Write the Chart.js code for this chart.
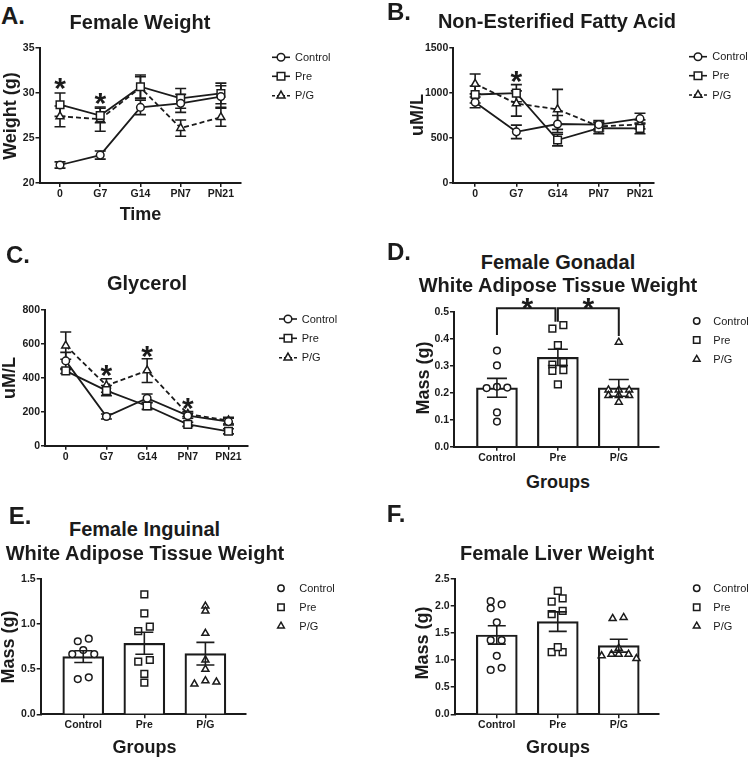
<!DOCTYPE html>
<html>
<head>
<meta charset="utf-8">
<script src="https://cdn.jsdelivr.net/npm/chart.js@4.4.1/dist/chart.umd.min.js"></script>
<style>
body { margin: 0; background: #fff; width: 748px; height: 757px; position: relative; overflow: hidden;
       font-family: "Liberation Sans", Arial, sans-serif; color: #1b1b1b; }
canvas { position: absolute; }
.t { position: absolute; white-space: nowrap; line-height: 1; font-weight: bold; transform: translate(-50%, -50%); z-index: 2; }
.v { transform: translate(-50%, -50%) rotate(-90deg); }
</style>
</head>
<body>
<canvas id="cA"></canvas>
<canvas id="cB"></canvas>
<canvas id="cC"></canvas>
<canvas id="cD"></canvas>
<canvas id="cE"></canvas>
<canvas id="cF"></canvas>

<div class="t" style="left:13px;top:15.5px;font-size:24px">A.</div>
<div class="t" style="left:140px;top:22px;font-size:20px">Female Weight</div>
<div class="t v" style="left:9.5px;top:116px;font-size:18px">Weight (g)</div>
<div class="t" style="left:140.5px;top:214px;font-size:18px">Time</div>

<div class="t" style="left:399px;top:12px;font-size:24px">B.</div>
<div class="t" style="left:557px;top:21px;font-size:20px">Non-Esterified Fatty Acid</div>
<div class="t v" style="left:417px;top:115px;font-size:18px">uM/L</div>

<div class="t" style="left:18px;top:255px;font-size:24px">C.</div>
<div class="t" style="left:147px;top:283px;font-size:20px">Glycerol</div>
<div class="t v" style="left:9px;top:378px;font-size:18px">uM/L</div>

<div class="t" style="left:399px;top:252px;font-size:24px">D.</div>
<div class="t" style="left:558px;top:262px;font-size:20px">Female Gonadal</div>
<div class="t" style="left:558px;top:285px;font-size:20px">White Adipose Tissue Weight</div>
<div class="t v" style="left:423px;top:378px;font-size:18px">Mass (g)</div>
<div class="t" style="left:558px;top:481.5px;font-size:18px">Groups</div>

<div class="t" style="left:20px;top:515.5px;font-size:24px">E.</div>
<div class="t" style="left:144.5px;top:529px;font-size:20px">Female Inguinal</div>
<div class="t" style="left:145px;top:552.5px;font-size:20px">White Adipose Tissue Weight</div>
<div class="t v" style="left:8px;top:646.5px;font-size:18px">Mass (g)</div>
<div class="t" style="left:144.5px;top:746.5px;font-size:18px">Groups</div>

<div class="t" style="left:396px;top:513.5px;font-size:24px">F.</div>
<div class="t" style="left:557px;top:552.5px;font-size:20px">Female Liver Weight</div>
<div class="t v" style="left:421.5px;top:643px;font-size:18px">Mass (g)</div>
<div class="t" style="left:558px;top:746.5px;font-size:18px">Groups</div>

<script>
const timeLabels = ['0', 'G7', 'G14', 'PN7', 'PN21'];
const groupLabels = ['Control', 'Pre', 'P/G'];

// A. female weight (g), mean and SEM
const weightCtrl = [22.0, 23.1, 28.4, 28.85, 29.6];
const weightCtrlErr = [0.35, 0.45, 0.8, 1.0, 1.2];
const weightPre = [28.7, 27.5, 30.7, 29.4, 29.95];
const weightPreErr = [1.3, 0.8, 1.3, 1.1, 1.15];
const weightPG = [27.4, 27.1, 30.6, 26.1, 27.3];
const weightPGErr = [1.15, 1.35, 1.2, 0.9, 1.0];
const weightStars = [[0, 31.3], [1, 29.6]];

// B. NEFA (uM/L)
const nefaCtrl = [893, 565, 652, 645, 712];
const nefaCtrlErr = [60, 75, 95, 45, 60];
const nefaPre = [980, 995, 474, 605, 604];
const nefaPreErr = [95, 95, 65, 60, 60];
const nefaPG = [1097, 880, 815, 625, 648];
const nefaPGErr = [110, 140, 222, 50, 50];
const nefaStars = [[1, 1205]];

// C. glycerol (uM/L)
const glyCtrl = [500, 172, 280, 177, 142];
const glyCtrlErr = [50, 15, 25, 15, 20];
const glyPre = [441, 325, 234, 126, 85];
const glyPreErr = [15, 30, 20, 12, 15];
const glyPG = [590, 355, 443, 187, 148];
const glyPGErr = [80, 40, 70, 15, 20];
const glyStars = [[1, 458], [2, 568], [3, 260]];

// D. gonadal WAT (g)
const gonBar = [0.218, 0.331, 0.218];
const gonErr = [0.035, 0.03, 0.031];
const gonCtrl = [0.356, 0.301, 0.217, 0.222, 0.219, 0.127, 0.093];
const gonCtrlJit = [0, 0, -0.17, 0, 0.17, 0, 0];
const gonPre = [0.437, 0.450, 0.376, 0.304, 0.281, 0.313, 0.284, 0.231];
const gonPreJit = [-0.09, 0.09, 0, -0.09, -0.09, 0.09, 0.09, 0];
const gonPG = [0.387, 0.21, 0.21, 0.21, 0.19, 0.19, 0.19, 0.165];
const gonPGJit = [0, -0.17, 0, 0.17, -0.17, 0, 0.17, 0];
const gonStars = [[0.5, 0.537], [1.5, 0.537]];
// brackets: from group, to group, top, left foot, right foot
const gonBrackets = [[0, 0.96, 0.513, 0.414, 0.463], [1.0, 2, 0.513, 0.463, 0.41]];

// E. inguinal WAT (g)
const ingBar = [0.64, 0.787, 0.672];
const ingErr = [0.065, 0.122, 0.125];
const ingCtrl = [0.81, 0.838, 0.713, 0.668, 0.668, 0.391, 0.41];
const ingCtrlJit = [-0.09, 0.09, 0, -0.18, 0.18, -0.09, 0.09];
const ingPre = [1.33, 1.12, 0.971, 0.923, 0.602, 0.583, 0.447, 0.35];
const ingPreJit = [0, 0, 0.09, -0.1, 0.09, -0.1, 0, 0];
const ingPG = [1.2, 1.145, 0.898, 0.602, 0.499, 0.336, 0.372, 0.358];
const ingPGJit = [0, 0, 0, 0, 0, -0.18, 0, 0.18];

// F. liver (g)
const livBar = [1.466, 1.712, 1.268];
const livErr = [0.17, 0.18, 0.12];
const livCtrl = [2.09, 1.96, 2.03, 1.70, 1.37, 1.37, 1.08, 0.82, 0.86];
const livCtrlJit = [-0.1, -0.1, 0.08, 0, -0.1, 0.08, 0, -0.1, 0.08];
const livPre = [2.28, 2.08, 2.14, 1.85, 1.91, 1.15, 1.15, 1.24];
const livPreJit = [0, -0.1, 0.08, -0.1, 0.08, -0.1, 0.08, 0];
const livPG = [1.77, 1.79, 1.22, 1.08, 1.11, 1.11, 1.11, 1.03];
const livPGJit = [-0.1, 0.08, 0, -0.28, -0.12, 0, 0.16, 0.29];

const INK = '#1b1b1b';
const FONT = '"Liberation Sans", Arial, sans-serif';
const Y_W = 34, X_H = 18;

function xy(vals) { return vals.map((v, i) => ({x: i, y: v})); }
function dots(g, vals, jit) { return vals.map((v, i) => ({x: g + jit[i], y: v})); }

// marker look for each group
const looks = [
    {pointStyle: 'circle', radius: 3.8},
    {pointStyle: 'rect', radius: 5.4},
    {pointStyle: 'triangle', radius: 4.6}
];

function lineSet(label, vals, k) {
    return {
        label: label, data: xy(vals),
        borderColor: INK, borderWidth: 1.8, borderDash: k == 2 ? [5, 3] : [],
        pointStyle: looks[k].pointStyle, pointRadius: looks[k].radius,
        pointBackgroundColor: '#fff', pointBorderColor: INK, pointBorderWidth: 1.5
    };
}

function dotSet(label, g, vals, jit) {
    return {
        type: 'scatter', label: label, data: dots(g, vals, jit), order: 0,
        pointStyle: looks[g].pointStyle, pointRadius: looks[g].radius * 0.88,
        pointBackgroundColor: '#fff', pointBorderColor: INK, pointBorderWidth: 1.5
    };
}

function barSet(vals) {
    return {
        type: 'bar', label: 'mean', data: xy(vals), order: 1,
        backgroundColor: '#fff', borderColor: INK, borderWidth: 2.2, barThickness: 41
    };
}

function scales(xmin, xmax, ymin, ymax, step, fmt) {
    const tickFont = {family: FONT, size: 10.5, weight: 'bold'};
    return {
        x: {
            type: 'linear', min: xmin, max: xmax, offset: false,
            afterBuildTicks: s => { s.ticks = s.chart.data.xLabels.map((_, i) => ({value: i})); },
            afterFit: s => { s.height = X_H; },
            ticks: {callback: v => s_label(v), color: INK, font: tickFont, padding: 1, maxRotation: 0, autoSkip: false},
            grid: {drawOnChartArea: false, offset: false, tickLength: 4, color: INK, lineWidth: 1.5},
            border: {color: INK, width: 2}
        },
        y: {
            min: ymin, max: ymax,
            afterFit: s => { s.width = Y_W; },
            ticks: {stepSize: step, callback: fmt, color: INK, font: tickFont, padding: 1},
            grid: {drawOnChartArea: false, tickLength: 4, color: INK, lineWidth: 1.5},
            border: {color: INK, width: 2}
        }
    };
}
let curLabels = timeLabels;
function s_label(v) { return curLabels[Math.round(v)]; }

// error bars, asterisks, brackets and legend
function extras(o) {
    function errBars(chart) {
        const ctx = chart.ctx, ys = chart.scales.y;
        ctx.save();
        ctx.strokeStyle = INK; ctx.lineWidth = 1.6; ctx.setLineDash([]);
        o.err.forEach((errs, di) => {
            if (!errs) return;
            const ds = chart.data.datasets[di];
            chart.getDatasetMeta(di).data.forEach((el, i) => {
                const v = ds.data[i].y, e = errs[i];
                const top = ys.getPixelForValue(v + e), bot = ys.getPixelForValue(v - e);
                ctx.beginPath();
                ctx.moveTo(el.x, top); ctx.lineTo(el.x, bot);
                ctx.moveTo(el.x - o.cap, top); ctx.lineTo(el.x + o.cap, top);
                ctx.moveTo(el.x - o.cap, bot); ctx.lineTo(el.x + o.cap, bot);
                ctx.stroke();
            });
        });
        ctx.restore();
    }
    return {
        id: 'extras',
        beforeDatasetsDraw(chart) { if (o.errUnder) errBars(chart); },
        afterDatasetsDraw(chart) {
            if (!o.errUnder) errBars(chart);
            const ctx = chart.ctx, xs = chart.scales.x, ys = chart.scales.y;
            ctx.save();
            ctx.fillStyle = INK; ctx.strokeStyle = INK;
            // asterisks
            ctx.font = 'bold 30px ' + FONT;
            ctx.textAlign = 'center'; ctx.textBaseline = 'alphabetic';
            (o.stars || []).forEach(s => {
                ctx.fillText('*', xs.getPixelForValue(s[0]), ys.getPixelForValue(s[1]) + 16.5);
            });
            // significance brackets
            ctx.lineWidth = 2;
            (o.brackets || []).forEach(b => {
                const x1 = xs.getPixelForValue(b[0]), x2 = xs.getPixelForValue(b[1]);
                ctx.beginPath();
                ctx.moveTo(x1, ys.getPixelForValue(b[3]));
                ctx.lineTo(x1, ys.getPixelForValue(b[2]));
                ctx.lineTo(x2, ys.getPixelForValue(b[2]));
                ctx.lineTo(x2, ys.getPixelForValue(b[4]));
                ctx.stroke();
            });
            // legend
            const L = o.legend;
            ctx.font = '11px ' + FONT;
            ctx.textAlign = 'left'; ctx.textBaseline = 'middle';
            L.sets.forEach((di, k) => {
                const ds = chart.data.datasets[di];
                const y = L.rows[k] - o.oy, x = L.x - o.ox;
                ctx.strokeStyle = INK; ctx.lineWidth = 1.6;
                if (L.line) {
                    ctx.setLineDash(k == 2 ? [3, 2] : []);
                    ctx.beginPath(); ctx.moveTo(x - 9, y); ctx.lineTo(x + 9, y); ctx.stroke();
                    ctx.setLineDash([]);
                }
                ctx.fillStyle = '#fff'; ctx.lineWidth = 1.5;
                Chart.helpers.drawPoint(ctx, {pointStyle: ds.pointStyle, radius: L.line ? ds.pointRadius : ds.pointRadius * 0.95, borderWidth: 1.5, rotation: 0}, x, y);
                ctx.fillStyle = INK;
                ctx.fillText(ds.label, L.tx - o.ox, y + 0.5);
            });
            ctx.restore();
        }
    };
}

// place canvas at (cx, cy) with size w x h, and chart area at box [l, t, r, b] (page px)
function panel(id, cx, cy, w, h, box, type, datasets, labels, sc, ex) {
    const cv = document.getElementById(id);
    cv.style.left = cx + 'px'; cv.style.top = cy + 'px';
    cv.width = w; cv.height = h;
    ex.ox = cx; ex.oy = cy;
    curLabels = labels;
    return new Chart(cv, {
        type: type,
        data: {xLabels: labels, datasets: datasets},
        options: {
            responsive: false, animation: false, events: [],
            devicePixelRatio: 1,
            layout: {padding: {
                left: box[0] - cx - Y_W, top: box[1] - cy,
                right: cx + w - box[2], bottom: cy + h - box[3] - X_H
            }},
            plugins: {legend: {display: false}, tooltip: {enabled: false}},
            scales: sc
        },
        plugins: [extras(ex)]
    });
}

const int0 = v => String(v);
const dec1 = v => v.toFixed(1);

panel('cA', 0, 30, 374, 180, [39.5, 48, 241, 183], 'line',
    [lineSet('Control', weightCtrl, 0), lineSet('Pre', weightPre, 1), lineSet('P/G', weightPG, 2)],
    timeLabels, scales(-0.51, 4.5, 20, 35, 5, int0),
    {err: [weightCtrlErr, weightPreErr, weightPGErr], cap: 5.5, errUnder: true, stars: weightStars,
     legend: {line: true, sets: [0, 1, 2], x: 281, tx: 295, rows: [57.3, 76.3, 95.7]}});

panel('cB', 374, 30, 374, 180, [453.3, 47.7, 654, 182.7], 'line',
    [lineSet('Control', nefaCtrl, 0), lineSet('Pre', nefaPre, 1), lineSet('P/G', nefaPG, 2)],
    timeLabels, scales(-0.53, 4.34, 0, 1500, 500, int0),
    {err: [nefaCtrlErr, nefaPreErr, nefaPGErr], cap: 5.5, errUnder: true, stars: nefaStars,
     legend: {line: true, sets: [0, 1, 2], x: 698, tx: 712.3, rows: [56.7, 75.7, 95]}});

panel('cC', 0, 290, 374, 180, [45, 310, 248, 445.7], 'line',
    [lineSet('Control', glyCtrl, 0), lineSet('Pre', glyPre, 1), lineSet('P/G', glyPG, 2)],
    timeLabels, scales(-0.51, 4.48, 0, 800, 200, int0),
    {err: [glyCtrlErr, glyPreErr, glyPGErr], cap: 5.5, errUnder: true, stars: glyStars,
     legend: {line: true, sets: [0, 1, 2], x: 288, tx: 301.7, rows: [319, 338.3, 357.7]}});

panel('cD', 374, 290, 374, 180, [454, 311.7, 659, 446.7], 'bar',
    [barSet(gonBar), dotSet('Control', 0, gonCtrl, gonCtrlJit), dotSet('Pre', 1, gonPre, gonPreJit), dotSet('P/G', 2, gonPG, gonPGJit)],
    groupLabels, scales(-0.705, 2.66, 0, 0.5, 0.1, dec1),
    {err: [gonErr], cap: 10, errUnder: false, stars: gonStars, brackets: gonBrackets,
     legend: {line: false, sets: [1, 2, 3], x: 696.7, tx: 713.3, rows: [321, 340, 359.3]}});

panel('cE', 0, 560, 374, 180, [40.7, 579, 245.7, 714.3], 'bar',
    [barSet(ingBar), dotSet('Control', 0, ingCtrl, ingCtrlJit), dotSet('Pre', 1, ingPre, ingPreJit), dotSet('P/G', 2, ingPG, ingPGJit)],
    groupLabels, scales(-0.697, 2.66, 0, 1.5, 0.5, dec1),
    {err: [ingErr], cap: 9, errUnder: false,
     legend: {line: false, sets: [1, 2, 3], x: 281, tx: 299.3, rows: [588.3, 607.3, 626]}});

panel('cF', 374, 560, 374, 180, [454.7, 579, 659, 714.3], 'bar',
    [barSet(livBar), dotSet('Control', 0, livCtrl, livCtrlJit), dotSet('Pre', 1, livPre, livPreJit), dotSet('P/G', 2, livPG, livPGJit)],
    groupLabels, scales(-0.69, 2.66, 0, 2.5, 0.5, dec1),
    {err: [livErr], cap: 9, errUnder: false,
     legend: {line: false, sets: [1, 2, 3], x: 696.7, tx: 713.3, rows: [588.3, 607.3, 626]}});
</script>
</body>
</html>
